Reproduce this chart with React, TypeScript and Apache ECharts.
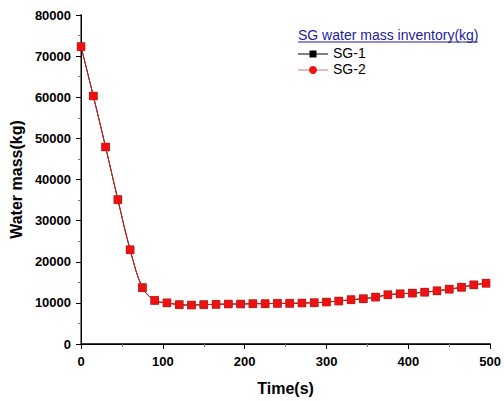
import React, { useEffect, useRef } from "react";
import * as echarts from "echarts";

const times = [0, 15, 30, 45, 60, 75, 90, 105, 120, 135, 150, 165, 180, 195, 210, 225, 240, 255, 270, 285, 300, 315, 330, 345, 360, 375, 390, 405, 420, 435, 450, 465, 480, 495];
const sg1 = [72300, 60300, 47900, 35100, 22900, 13700, 10600, 10000, 9570, 9470, 9570, 9640, 9720, 9720, 9800, 9800, 9880, 9880, 9960, 10040, 10200, 10440, 10770, 11000, 11400, 11970, 12200, 12370, 12600, 12930, 13330, 13800, 14380, 14770];
const sg2 = [72300, 60300, 47900, 35100, 22900, 13700, 10600, 10000, 9570, 9470, 9570, 9640, 9720, 9720, 9800, 9800, 9880, 9880, 9960, 10040, 10200, 10440, 10770, 11000, 11400, 11970, 12200, 12370, 12600, 12930, 13330, 13800, 14380, 14770];
const seriesNames = ["SG-1", "SG-2"];
const legendTitle = "SG water mass inventory(kg)";
const xName = "Time(s)";
const yName = "Water mass(kg)";

const FONT = "'Liberation Sans', Arial, sans-serif";

export default function App() {
  const ref = useRef<HTMLDivElement>(null);
  useEffect(() => {
    if (!ref.current) return;
    const chart = echarts.init(ref.current, undefined, { renderer: "svg" });
    const baseX = {
      type: "value",
      min: 0,
      max: 500,
      interval: 100,
      splitLine: { show: false },
    };
    const baseY = {
      type: "value",
      min: 0,
      max: 80000,
      interval: 10000,
      splitLine: { show: false },
    };
    const labelStyle = { color: "#000", fontFamily: FONT, fontWeight: "bold", fontSize: 13 };
    chart.setOption({
      animation: false,
      backgroundColor: "#fff",
      grid: { left: 80, right: 12, top: 15, bottom: 54, containLabel: false },
      xAxis: [
        {
          ...baseX,
          position: "bottom",
          axisLine: { lineStyle: { color: "#000", width: 1.5 } },
          axisTick: { inside: false, length: 5, lineStyle: { color: "#000", width: 1 } },
          minorTick: { show: true, splitNumber: 2, length: 3, lineStyle: { color: "#555" } },
          axisLabel: { ...labelStyle, margin: 11, formatter: (v: number) => String(v) },
          name: xName,
          nameLocation: "middle",
          nameGap: 36,
          nameTextStyle: { color: "#000", fontFamily: FONT, fontWeight: "bold", fontSize: 16 },
        },
        {
          ...baseX,
          position: "top",
          axisLine: { lineStyle: { color: "#000", width: 1 } },
          axisTick: { inside: true, length: 5, lineStyle: { color: "#000" } },
          minorTick: { show: true, splitNumber: 2, length: 3, lineStyle: { color: "#777" } },
          axisLabel: { show: false },
        },
      ],
      yAxis: [
        {
          ...baseY,
          position: "left",
          axisLine: { lineStyle: { color: "#808080", width: 2 } },
          axisTick: { inside: false, length: 5, lineStyle: { color: "#000", width: 1 } },
          minorTick: { show: true, splitNumber: 2, length: 3, lineStyle: { color: "#555" } },
          axisLabel: { ...labelStyle, margin: 10, formatter: (v: number) => String(v) },
          name: yName,
          nameLocation: "middle",
          nameGap: 54,
          nameTextStyle: { color: "#000", fontFamily: FONT, fontWeight: "bold", fontSize: 16 },
        },
        {
          ...baseY,
          position: "right",
          axisLine: { lineStyle: { color: "#000", width: 1 } },
          axisTick: { inside: true, length: 5, lineStyle: { color: "#000" } },
          minorTick: { show: true, splitNumber: 2, length: 3, lineStyle: { color: "#777" } },
          axisLabel: { show: false },
        },
      ],
      series: [
        {
          name: seriesNames[0],
          type: "line",
          data: times.map((t, i) => [t, sg1[i]]),
          smooth: 0.35,
          symbol: "rect",
          symbolSize: 8,
          itemStyle: { color: "#000" },
          lineStyle: { color: "#000", width: 1 },
          z: 2,
        },
        {
          name: seriesNames[1],
          type: "line",
          data: times.map((t, i) => [t, sg2[i]]),
          smooth: 0.35,
          symbol: "rect",
          symbolSize: 8,
          itemStyle: { color: "#ee1111", borderColor: "#cc1a1a", borderWidth: 0.5 },
          lineStyle: { color: "#d02020", width: 1 },
          z: 3,
        },
      ],
      graphic: [
        {
          type: "text",
          left: 298,
          top: 28,
          style: { text: legendTitle, fill: "#1c1c9c", font: `14px ${FONT}` },
        },
        {
          type: "line",
          shape: { x1: 298, y1: 42, x2: 478, y2: 42 },
          style: { stroke: "#1c1c9c", lineWidth: 1 },
        },
        {
          type: "line",
          shape: { x1: 298, y1: 54, x2: 328, y2: 54 },
          style: { stroke: "#000", lineWidth: 1 },
        },
        {
          type: "rect",
          shape: { x: 309.5, y: 50.5, width: 7, height: 7 },
          style: { fill: "#000" },
        },
        {
          type: "text",
          left: 333,
          top: 46,
          style: { text: seriesNames[0], fill: "#000", font: `14px ${FONT}` },
        },
        {
          type: "line",
          shape: { x1: 298, y1: 70, x2: 328, y2: 70 },
          style: { stroke: "#c87878", lineWidth: 1 },
        },
        {
          type: "circle",
          shape: { cx: 313, cy: 70, r: 4 },
          style: { fill: "#ee1111" },
        },
        {
          type: "text",
          left: 333,
          top: 62,
          style: { text: seriesNames[1], fill: "#000", font: `14px ${FONT}` },
        },
      ],
    });
    return () => chart.dispose();
  }, []);
  return (
    <div
      ref={ref}
      style={{ position: "fixed", left: 0, top: 0, width: 504, height: 401, background: "#fff" }}
    />
  );
}
